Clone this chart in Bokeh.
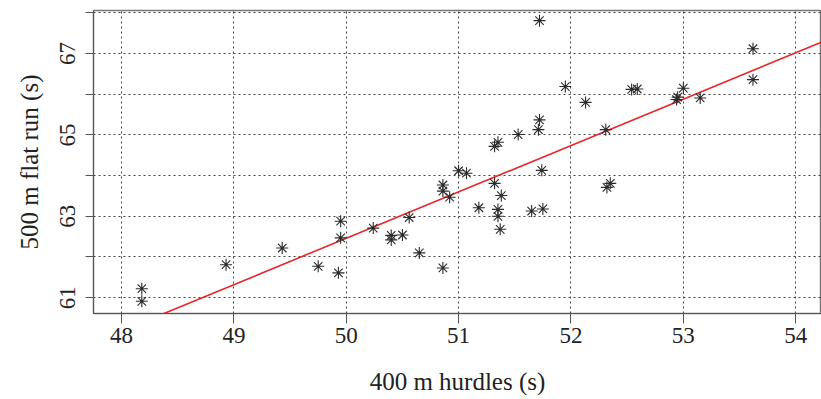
import numpy as np
from bokeh.plotting import figure
from bokeh.models import FixedTicker, Range1d
from bokeh.embed import file_html
from bokeh.resources import INLINE

hurdles = [48.18, 48.18, 48.93, 49.43, 49.75, 49.93, 49.95, 49.95, 50.24, 50.40,
           50.40, 50.50, 50.56, 50.65, 50.86, 50.86, 50.86, 50.92, 51.00, 51.07,
           51.18, 51.32, 51.32, 51.35, 51.35, 51.35, 51.38, 51.37, 51.53, 51.65,
           51.71, 51.72, 51.72, 51.74, 51.75, 51.95, 52.13, 52.31, 52.32, 52.35,
           52.54, 52.59, 52.94, 52.95, 53.00, 53.15, 53.62, 53.62]
flat_run = [61.22, 60.91, 61.81, 62.22, 61.77, 61.61, 62.47, 62.88, 62.71, 62.53,
            62.42, 62.54, 62.97, 62.10, 61.73, 63.77, 63.62, 63.47, 64.12, 64.06,
            63.21, 63.81, 64.72, 64.82, 63.17, 63.00, 63.51, 62.68, 65.01, 63.13,
            65.13, 65.37, 67.81, 64.13, 63.18, 66.19, 65.80, 65.13, 63.71, 63.81,
            66.12, 66.13, 65.87, 65.93, 66.15, 65.91, 67.12, 66.36]
fit_slope = 1.14
fit_at_51 = 63.6
x_ticks = [48, 49, 50, 51, 52, 53, 54]
y_ticks = [61, 62, 63, 64, 65, 66, 67, 68]
y_labels = {61: "61", 62: "", 63: "63", 64: "", 65: "65", 66: "", 67: "67", 68: ""}

FONT = "Liberation Serif"

p = figure(width=821, height=399, output_backend="svg", toolbar_location=None,
           x_range=Range1d(47.75, 54.23), y_range=Range1d(60.61, 68.06),
           min_border_left=93, min_border_right=0, min_border_top=10, min_border_bottom=86)

# regression line
lx = np.array([47.75, 54.23])
ly = fit_at_51 + fit_slope * (lx - 51)
p.line(lx, ly, line_color="#e8262a", line_width=1.6)

p.scatter(hurdles, flat_run, marker="asterisk", size=12, line_color="#2b2b2b", line_width=1.1)

for ax in (p.xaxis, p.yaxis):
    ax.major_label_text_font = FONT
    ax.axis_label_text_font = FONT
    ax.major_label_text_font_size = "23px"
    ax.axis_label_text_font_size = "25px"
    ax.axis_label_text_font_style = "normal"
    ax.major_label_text_color = "#222222"
    ax.axis_label_text_color = "#222222"
    ax.minor_tick_line_color = None
    ax.major_tick_in = 0
    ax.axis_line_color = "#555555"
    ax.major_tick_line_color = "#555555"

p.xaxis.ticker = FixedTicker(ticks=x_ticks)
p.yaxis.ticker = FixedTicker(ticks=y_ticks)
p.yaxis.major_label_overrides = y_labels
p.yaxis.major_label_orientation = "vertical"
p.xaxis.major_tick_out = 10
p.yaxis.major_tick_out = 8
p.xaxis.major_label_standoff = 4
p.yaxis.major_label_standoff = 10
p.xaxis.axis_label = "400 m hurdles (s)"
p.yaxis.axis_label = "500 m flat run (s)"
p.xaxis.axis_label_standoff = 22
p.yaxis.axis_label_standoff = 15

for g in (p.xgrid, p.ygrid):
    g.grid_line_color = "#444444"
    g.grid_line_dash = "2 3"
    g.grid_line_width = 1
p.xgrid.ticker = FixedTicker(ticks=x_ticks)
p.ygrid.ticker = FixedTicker(ticks=y_ticks)

p.outline_line_color = "#777777"
p.outline_line_width = 1.5
p.background_fill_color = "white"
p.border_fill_color = "white"

open("out.html", "w").write(file_html(p, INLINE))
